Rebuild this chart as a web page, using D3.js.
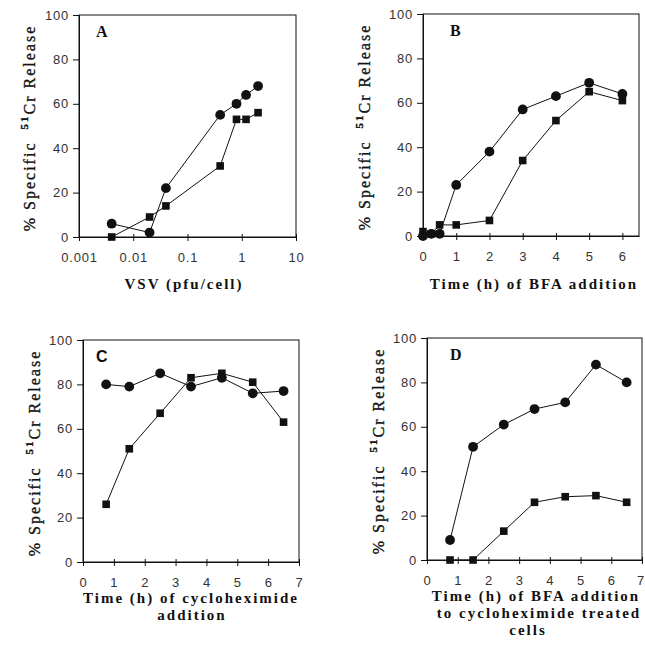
<!DOCTYPE html>
<html>
<head>
<meta charset="utf-8">
<script src="https://cdn.jsdelivr.net/npm/d3@7"></script>
<style>
  body { margin: 0; background: #fff; }
</style>
</head>
<body>
<div id="chart"></div>
<script>
// panel A: dose response
var aDose = [0.004, 0.02, 0.04, 0.4, 0.8, 1.2, 2];
var aCircle = [6, 2, 22, 55, 60, 64, 68];
var aSquare = [0, 9, 14, 32, 53, 53, 56];
var aTicks = [0.001, 0.01, 0.1, 1, 10];
var aTickLabels = ["0.001", "0.01", "0.1", "1", "10"];

// panel B: time of BFA addition
var bTime = [0, 0.25, 0.5, 1, 2, 3, 4, 5, 6];
var bCircle = [0, 1, 1, 23, 38, 57, 63, 69, 64];
var bSquare = [2, 1, 5, 5, 7, 34, 52, 65, 61];
var bTicks = [0, 1, 2, 3, 4, 5, 6];

// panel C: time of cycloheximide addition
var cTime = [0.75, 1.5, 2.5, 3.5, 4.5, 5.5, 6.5];
var cCircle = [80, 79, 85, 79, 83, 76, 77];
var cSquare = [26, 51, 67, 83, 85, 81, 63];

// panel D: BFA addition to cycloheximide treated cells
var dTime = [0.75, 1.5, 2.5, 3.5, 4.5, 5.5, 6.5];
var dCircle = [9, 51, 61, 68, 71, 88, 80];
var dSquare = [0, 0, 13, 26, 28.5, 29, 26];

var cdTicks = [0, 1, 2, 3, 4, 5, 6, 7];
var yTicks = [0, 20, 40, 60, 80, 100];

var width = 645, height = 645;
var ink = "#111";
var serif = "'Liberation Serif', 'Times New Roman', serif";

var svg = d3.select("#chart").append("svg")
  .attr("width", width)
  .attr("height", height);

function drawPanel(p) {
  var x = p.x, y = p.y;
  var g = svg.append("g");
  var x0 = x.range()[0], x1 = x.range()[1];
  var y0 = y.range()[0], y1 = y.range()[1];

  // frame
  g.append("rect")
    .attr("x", x0).attr("y", y1)
    .attr("width", x1 - x0).attr("height", y0 - y1)
    .attr("fill", "none").attr("stroke", ink).attr("stroke-width", 1);

  // y axis
  var yAxis = d3.axisLeft(y).tickValues(yTicks).tickSize(6).tickPadding(4);
  var ya = g.append("g").attr("transform", "translate(" + x0 + ",0)").call(yAxis);

  // x axis
  var xAxis = d3.axisBottom(x).tickValues(p.ticks).tickSizeInner(4).tickSizeOuter(0).tickPadding(12);
  if (p.tickLabels) xAxis.tickFormat((d, i) => p.tickLabels[i]);
  else xAxis.tickFormat(d3.format("d"));
  var xa = g.append("g").attr("transform", "translate(0," + y0 + ")").call(xAxis);
  xa.selectAll(".tick line").attr("y1", -3);

  [ya, xa].forEach(function(a) {
    a.select(".domain").attr("stroke", ink);
    a.selectAll(".tick line").attr("stroke", ink);
    a.selectAll(".tick text")
      .style("font-family", "'Liberation Sans', Arial, sans-serif")
      .style("font-size", "13px")
      .style("letter-spacing", "0.8px")
      .attr("fill", "#333");
  });
  // keep the last x label inside the page edge
  xa.selectAll(".tick text").filter((d, i, n) => i == n.length - 1 && x(d) > width - 8)
    .attr("dx", -2).style("letter-spacing", "0px");

  // lines + markers
  var line = d3.line().x(d => x(d[0])).y(d => y(d[1]));
  var circ = p.xs.map((v, i) => [v, p.circle[i]]);
  var sq = p.xs.map((v, i) => [v, p.square[i]]);

  g.append("path").attr("d", line(circ)).attr("fill", "none").attr("stroke", ink).attr("stroke-width", 1);
  g.append("path").attr("d", line(sq)).attr("fill", "none").attr("stroke", ink).attr("stroke-width", 1);

  g.selectAll(".sq").data(sq).join("rect")
    .attr("x", d => x(d[0]) - 3.8).attr("y", d => y(d[1]) - 3.8)
    .attr("width", 7.6).attr("height", 7.6).attr("fill", ink);
  g.selectAll(".ci").data(circ).join("circle")
    .attr("cx", d => x(d[0])).attr("cy", d => y(d[1]))
    .attr("r", 4.9).attr("fill", ink);

  // panel letter
  g.append("text")
    .attr("x", p.letterX).attr("y", y1 + 22)
    .style("font-family", p.letterFont)
    .style("font-weight", "bold")
    .style("font-size", "16px")
    .attr("fill", ink)
    .text(p.letter);

  // y title
  var yt = g.append("text")
    .attr("transform", "translate(" + p.yTitleX + "," + ((y0 + y1) / 2 + 2) + ") rotate(-90)")
    .attr("text-anchor", "middle")
    .style("font-family", serif)
    .style("font-size", "16px")
    .style("letter-spacing", "2px")
    .attr("fill", ink)
    .attr("stroke", ink)
    .attr("stroke-width", 0.35);
  yt.append("tspan").text("% Specific\u00a0\u00a0");
  yt.append("tspan").attr("dy", -7).style("font-size", "11px").style("font-weight", "bold").text("51");
  yt.append("tspan").attr("dy", 7).text("Cr Release");

  // x title
  g.selectAll(".xt").data(p.xTitle).join("text")
    .attr("x", (d, i) => p.xTitleX[i])
    .attr("y", (d, i) => y0 + p.xTitleDy + i * 17)
    .attr("text-anchor", "middle")
    .style("font-family", serif)
    .style("font-size", "15px")
    .style("font-weight", "bold")
    .style("letter-spacing", "2px")
    .attr("fill", ink)
    .text(d => d);
}

drawPanel({
  x: d3.scaleLog().domain([0.001, 10]).range([79, 296]),
  y: d3.scaleLinear().domain([0, 100]).range([237, 15]),
  ticks: aTicks, tickLabels: aTickLabels,
  xs: aDose, circle: aCircle, square: aSquare,
  letter: "A", letterX: 96, letterFont: serif,
  yTitleX: 35, xTitle: ["VSV (pfu/cell)"], xTitleX: [184], xTitleDy: 52
});

drawPanel({
  x: d3.scaleLinear().domain([0, 6.5]).range([423, 639]),
  y: d3.scaleLinear().domain([0, 100]).range([236, 14]),
  ticks: bTicks,
  xs: bTime, circle: bCircle, square: bSquare,
  letter: "B", letterX: 450, letterFont: serif,
  yTitleX: 370, xTitle: ["Time (h) of BFA addition"], xTitleX: [534], xTitleDy: 53
});

drawPanel({
  x: d3.scaleLinear().domain([0, 7]).range([83, 299]),
  y: d3.scaleLinear().domain([0, 100]).range([562, 340]),
  ticks: cdTicks,
  xs: cTime, circle: cCircle, square: cSquare,
  letter: "C", letterX: 96, letterFont: "'Liberation Sans', Arial, sans-serif",
  yTitleX: 40, xTitle: ["Time (h) of cycloheximide", "addition"], xTitleX: [191, 192], xTitleDy: 41
});

drawPanel({
  x: d3.scaleLinear().domain([0, 7]).range([427, 642]),
  y: d3.scaleLinear().domain([0, 100]).range([560, 338]),
  ticks: cdTicks,
  xs: dTime, circle: dCircle, square: dSquare,
  letter: "D", letterX: 450, letterFont: serif,
  yTitleX: 384, xTitle: ["Time (h) of BFA addition", "to cycloheximide treated", "cells"],
  xTitleX: [536, 539, 528], xTitleDy: 41
});
</script>
</body>
</html>
